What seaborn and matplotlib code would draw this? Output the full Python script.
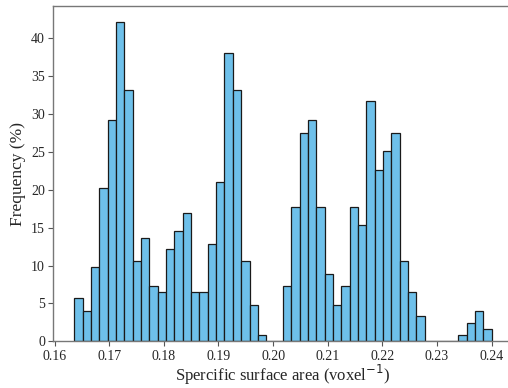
import numpy as np
import pandas as pd
import matplotlib
matplotlib.use("Agg")
import matplotlib.pyplot as plt
import seaborn as sns

# Histogram bin range (voxel^-1) and bar heights (%)
bin_lo = 0.1636
bin_hi = 0.2400
n_bins = 50
frequency = [
    5.7, 4.05, 9.8, 20.2, 29.2, 42.2, 33.2, 10.55, 13.7, 7.3,
    6.46, 12.2, 14.5, 17.0, 6.46, 6.46, 12.9, 21.0, 38.1, 33.2,
    10.6, 4.84, 0.82, 0.0, 0.0, 7.3, 17.7, 27.5, 29.2, 17.7,
    8.93, 4.84, 7.3, 17.7, 15.3, 31.7, 22.6, 25.1, 27.5, 10.6,
    6.46, 3.3, 0.0, 0.0, 0.0, 0.0, 0.82, 2.46, 4.05, 1.63,
]
x_ticks = [0.16, 0.17, 0.18, 0.19, 0.20, 0.21, 0.22, 0.23, 0.24]
y_ticks = [0, 5, 10, 15, 20, 25, 30, 35, 40]

edges = np.linspace(bin_lo, bin_hi, n_bins + 1)
centers = (edges[:-1] + edges[1:]) / 2
df = pd.DataFrame({"ssa": centers, "freq": frequency})

sns.set_style("ticks")
plt.rcParams['font.family'] = ['Liberation Serif', 'DejaVu Serif']
plt.rcParams['mathtext.fontset'] = 'dejavusans'

fig = plt.figure(figsize=(5.08, 3.88), dpi=100)
ax = fig.add_axes([53.4 / 508, (388 - 341.3) / 388, 459 / 508, 335.6 / 388])

sns.histplot(data=df, x="ssa", weights="freq", bins=n_bins,
             binrange=(bin_lo, bin_hi), ax=ax,
             color="#6EC0EA", alpha=1.0, edgecolor="#1a1a1a", linewidth=0.9)

ax.set_xticks(x_ticks)
ax.set_xticklabels([f"{t:.2f}" for t in x_ticks])
ax.set_yticks(y_ticks)
ax.set_xlim(bin_lo - 0.05 * (bin_hi - bin_lo), bin_hi + 0.05 * (bin_hi - bin_lo))
ax.set_ylim(0, max(frequency) * 1.05)

ax.tick_params(labelsize=10, length=3.5, width=0.8, color="#555555", pad=2.5)
for s in ax.spines.values():
    s.set_color("#777777")
    s.set_linewidth(1.0)

ax.set_xlabel("Spercific surface area (voxel$^{-1}$)", fontsize=12, labelpad=0.5)
ax.set_ylabel("Frequency (%)", fontsize=12.5, labelpad=4)

fig.savefig("out.png", dpi=100)
